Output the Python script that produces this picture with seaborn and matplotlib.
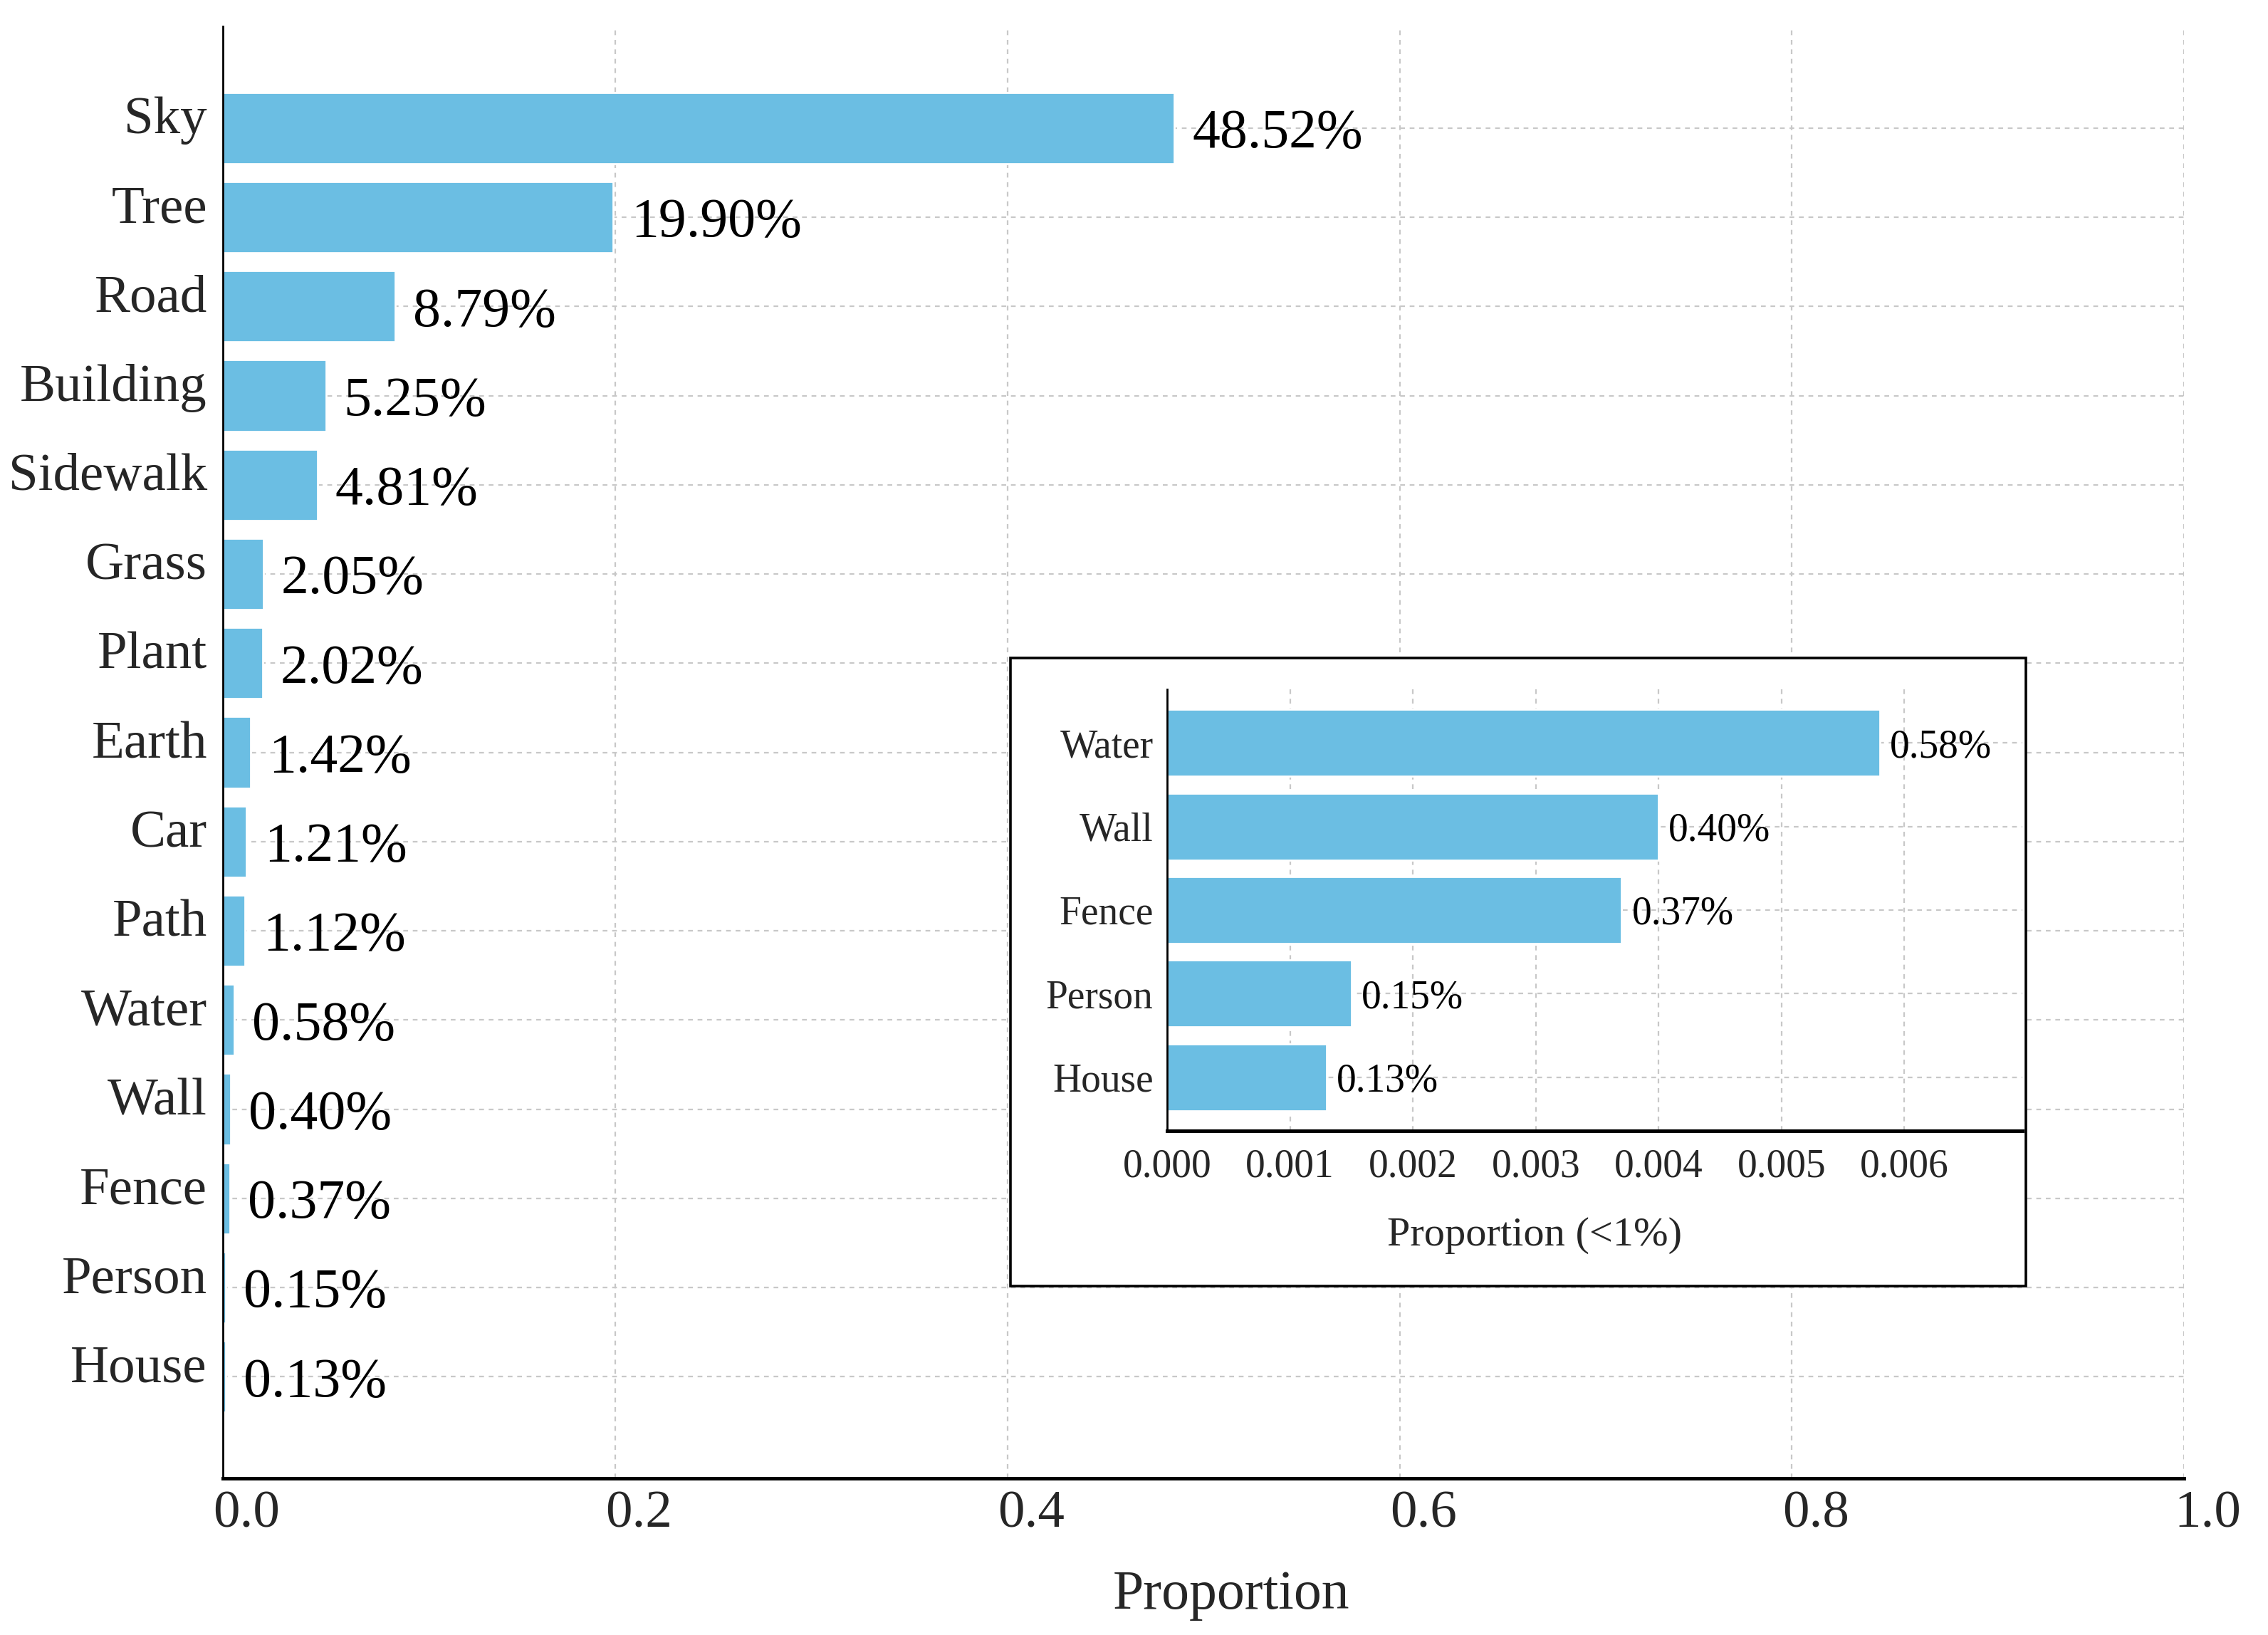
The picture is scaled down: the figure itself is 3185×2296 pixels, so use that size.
import matplotlib
matplotlib.use("Agg")
import matplotlib.pyplot as plt
import matplotlib.transforms as mtransforms
import seaborn as sns
import pandas as pd
from matplotlib.patches import Rectangle

# ---------------- data ----------------
categories = ["Sky", "Tree", "Road", "Building", "Sidewalk", "Grass", "Plant",
              "Earth", "Car", "Path", "Water", "Wall", "Fence", "Person", "House"]
proportions = [0.4852, 0.1990, 0.0879, 0.0525, 0.0481, 0.0205, 0.0202,
               0.0142, 0.0121, 0.0112, 0.0058, 0.0040, 0.0037, 0.0015, 0.0013]

small_categories = ["Water", "Wall", "Fence", "Person", "House"]
small_proportions = [0.0058, 0.0040, 0.0037, 0.0015, 0.0013]

main_xticks = [0.0, 0.2, 0.4, 0.6, 0.8, 1.0]
main_xticklabels = ["0.0", "0.2", "0.4", "0.6", "0.8", "1.0"]
inset_xticks = [0.000, 0.001, 0.002, 0.003, 0.004, 0.005, 0.006]
inset_xticklabels = ["0.000", "0.001", "0.002", "0.003", "0.004", "0.005", "0.006"]

main_xlabel = "Proportion"
inset_xlabel = "Proportion (<1%)"

BAR = "#6BBEE3"
GRID = "#c8c8c8"

sns.set_style("white")
plt.rcParams["font.family"] = ["Liberation Serif", "DejaVu Serif"]

fig = plt.figure(figsize=(15.925, 11.48), dpi=200)

# ---------------- main axes ----------------
ax = fig.add_axes([0.0983, 0.0958, 0.8647, 0.8881])
df = pd.DataFrame({"category": categories, "proportion": proportions})
sns.barplot(data=df, x="proportion", y="category", orient="h", color=BAR,
            saturation=1, width=0.8, ax=ax, zorder=2)

n = len(categories)
m = 0.05 * (n - 1 + 0.8)
ax.set_ylim(n - 1 + 0.4 + m, -0.4 - m)
ax.set_xlim(0, 1.0)
ax.set_xticks(main_xticks)
ax.set_xticklabels(main_xticklabels)

labs = ax.bar_label(ax.containers[0], labels=[f"{v*100:.2f}%" for v in proportions],
                    padding=9, fontsize=28, color="black")
for t in labs:
    t.set_va("center_baseline")

ax.set_xlabel(main_xlabel, fontsize=28, labelpad=16)
ax.xaxis.label.set_x(0.514)
ax.set_ylabel("")
ax.tick_params(axis="both", direction="in", length=5, width=1.1, color="black")
ax.tick_params(axis="y", labelsize=27, pad=8)
ax.tick_params(axis="x", labelsize=27, pad=6)
for s in ["top", "right"]:
    ax.spines[s].set_visible(False)
ax.spines["left"].set_linewidth(1.0)
ax.spines["bottom"].set_linewidth(1.8)
for s in ["left", "bottom"]:
    ax.spines[s].set_color("black")
ax.grid(True, axis="both", linestyle=(0, (3, 3)), color=GRID, linewidth=0.8)
ax.set_axisbelow(True)

# label offsets seen in the reference
up = mtransforms.ScaledTranslation(0, 6.5 / 72, fig.dpi_scale_trans)
for lbl in ax.get_yticklabels():
    lbl.set_transform(lbl.get_transform() + up)
right = mtransforms.ScaledTranslation(12 / 72, 0, fig.dpi_scale_trans)
for lbl in ax.get_xticklabels():
    lbl.set_transform(lbl.get_transform() + right)

# ---------------- inset frame ----------------
box = Rectangle((0.4455, 0.2134), 0.4477, 0.3842, transform=fig.transFigure,
                facecolor="white", edgecolor="black", linewidth=1.3, zorder=1)
fig.patches.append(box)

# ---------------- inset axes ----------------
ins = fig.add_axes([0.5146, 0.3084, 0.3771, 0.2700])
ins.set_zorder(3)
ins.patch.set_alpha(0)
sdf = pd.DataFrame({"category": small_categories, "proportion": small_proportions})
sns.barplot(data=sdf, x="proportion", y="category", orient="h", color=BAR,
            saturation=1, width=0.8, ax=ins, zorder=2)
k = len(small_categories)
mk = 0.05 * (k - 1 + 0.8)
ins.set_ylim(k - 1 + 0.4 + mk, -0.4 - mk)
ins.set_xlim(0, max(small_proportions) * 1.2)
ins.set_xticks(inset_xticks)
ins.set_xticklabels(inset_xticklabels)
slabs = ins.bar_label(ins.containers[0], labels=[f"{v*100:.2f}%" for v in small_proportions],
                      padding=5, fontsize=20, color="black")
for t in slabs:
    t.set_va("center_baseline")
ins.set_xlabel(inset_xlabel, fontsize=21, labelpad=16)
ins.xaxis.label.set_x(0.43)
ins.set_ylabel("")
ins.tick_params(axis="both", direction="in", length=4, width=1.0, color="black")
ins.tick_params(axis="y", labelsize=20, pad=7)
ins.tick_params(axis="x", labelsize=20, pad=9)
for s in ["top", "right"]:
    ins.spines[s].set_visible(False)
ins.spines["left"].set_linewidth(1.0)
ins.spines["bottom"].set_linewidth(1.8)
for s in ["left", "bottom"]:
    ins.spines[s].set_color("black")
ins.grid(True, axis="both", linestyle=(0, (3, 3)), color=GRID, linewidth=0.8)
ins.set_axisbelow(True)

fig.savefig("out.png", dpi=200, facecolor="white")
